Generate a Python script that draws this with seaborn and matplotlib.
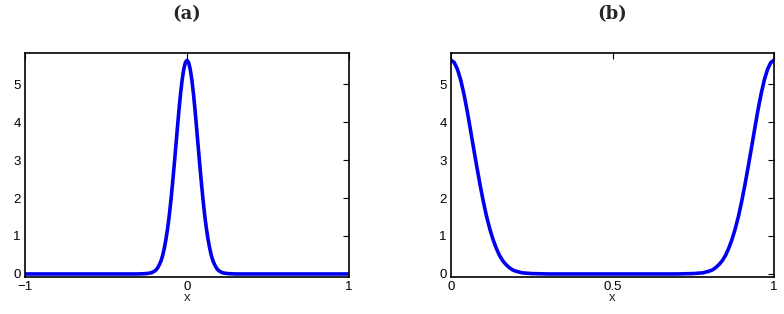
import matplotlib
matplotlib.use("Agg")
import matplotlib.pyplot as plt
import seaborn as sns
import pandas as pd

# Panel (a): profile on [-1, 1]
xa = [-1.0, -0.30, -0.25, -0.22, -0.20, -0.19, -0.18, -0.17, -0.16, -0.15, -0.14,
      -0.13, -0.12, -0.11, -0.10, -0.09, -0.08, -0.07, -0.06, -0.05, -0.04, -0.03,
      -0.02, -0.01, 0.0, 0.01, 0.02, 0.03, 0.04, 0.05, 0.06, 0.07, 0.08, 0.09,
      0.10, 0.11, 0.12, 0.13, 0.14, 0.15, 0.16, 0.17, 0.18, 0.19, 0.20, 0.22,
      0.25, 0.30, 1.0]
ya = [0.0, 0.0, 0.01, 0.03, 0.075, 0.11, 0.17, 0.25, 0.35, 0.49, 0.68,
      0.91, 1.19, 1.52, 1.91, 2.35, 2.82, 3.31, 3.81, 4.30, 4.74, 5.11,
      5.39, 5.57, 5.63, 5.57, 5.39, 5.11, 4.74, 4.30, 3.81, 3.31, 2.82, 2.35,
      1.91, 1.52, 1.19, 0.91, 0.68, 0.49, 0.35, 0.25, 0.17, 0.11, 0.075, 0.03,
      0.01, 0.0, 0.0]

# Panel (b): periodic profile on [0, 1]
xb = [0.0, 0.01, 0.02, 0.03, 0.04, 0.05, 0.06, 0.07, 0.08, 0.09, 0.10, 0.11,
      0.12, 0.13, 0.14, 0.15, 0.16, 0.17, 0.18, 0.19, 0.20, 0.22, 0.25, 0.30,
      0.50, 0.70, 0.75, 0.78, 0.80, 0.81, 0.82, 0.83, 0.84, 0.85, 0.86, 0.87,
      0.88, 0.89, 0.90, 0.91, 0.92, 0.93, 0.94, 0.95, 0.96, 0.97, 0.98, 0.99, 1.0]
yb = [5.63, 5.57, 5.39, 5.11, 4.74, 4.30, 3.81, 3.31, 2.82, 2.35, 1.91, 1.52,
      1.19, 0.91, 0.68, 0.49, 0.35, 0.25, 0.17, 0.11, 0.075, 0.03, 0.01, 0.0,
      0.0, 0.0, 0.01, 0.03, 0.075, 0.11, 0.17, 0.25, 0.35, 0.49, 0.68, 0.91,
      1.19, 1.52, 1.91, 2.35, 2.82, 3.31, 3.81, 4.30, 4.74, 5.11, 5.39, 5.57, 5.63]

ticks_a = [-1, 0, 1]
ticks_b = [0, 0.5, 1]
tick_labels_a = ["\u22121", "0", "1"]
tick_labels_b = ["0", "0.5", "1"]
yticks = [0, 1, 2, 3, 4, 5]
titles = ["(a)", "(b)"]

sns.set_theme(style="white")
plt.rcParams.update({
    "font.family": ["Liberation Sans", "DejaVu Sans"],
    "xtick.direction": "in",
    "ytick.direction": "in",
    "xtick.top": True,
    "ytick.right": True,
    "xtick.major.size": 4,
    "ytick.major.size": 4,
    "xtick.major.width": 0.8,
    "ytick.major.width": 0.8,
    "axes.edgecolor": "black",
    "axes.linewidth": 1.2,
})

fig = plt.figure(figsize=(7.84, 3.14), dpi=100)
ax1 = fig.add_axes([25/784, 1-277/314, 324/784, 224/314])
ax2 = fig.add_axes([451/784, 1-277/314, 323/784, 224/314])

dfa = pd.DataFrame({"x": xa, "y": ya})
dfb = pd.DataFrame({"x": xb, "y": yb})

for ax, df, xt, xtl, xl, title in [
    (ax1, dfa, ticks_a, tick_labels_a, (-1, 1), titles[0]),
    (ax2, dfb, ticks_b, tick_labels_b, (0, 1), titles[1]),
]:
    sns.lineplot(data=df, x="x", y="y", ax=ax, color="#0000ee", linewidth=2.6,
                 sort=False, estimator=None, solid_joinstyle="round",
                 solid_capstyle="round")
    ax.set_xlim(*xl)
    ax.set_ylim(-0.08, 5.82)
    ax.set_xticks(xt)
    ax.set_xticklabels(xtl, fontsize=9.5)
    ax.set_yticks(yticks)
    ax.set_yticklabels([str(v) for v in yticks], fontsize=9.5)
    ax.tick_params(axis="x", pad=3)
    ax.tick_params(axis="y", pad=3)
    ax.tick_params(axis="both", which="both", colors="black",
                   top=True, right=True, direction="in")
    ax.set_xlabel("x", fontsize=9.5, labelpad=-1)
    ax.set_ylabel("")
    for s in ax.spines.values():
        s.set_visible(True)
        s.set_color("black")
    bb = ax.get_position()
    fig.text((bb.x0 + bb.x1) / 2, 1 - 14/314, title, ha="center", va="center",
             fontsize=13, fontweight="bold", family=["DejaVu Serif"])

fig.savefig("out.png", dpi=100)
